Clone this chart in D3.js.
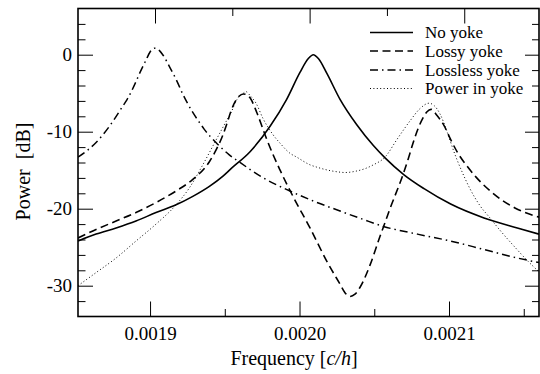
<!DOCTYPE html>
<html>
<head>
<meta charset="utf-8">
<script src="https://cdn.jsdelivr.net/npm/d3@7"></script>
<style>
  html, body { margin: 0; padding: 0; background: #fff; }
  svg { display: block; }
  text { font-family: "Liberation Serif", "Times New Roman", serif; fill: #000; }
</style>
</head>
<body>
<svg id="chart" width="540" height="374"></svg>
<script>
// ---------- data ----------
const seriesNames = ["No yoke", "Lossy yoke", "Lossless yoke", "Power in yoke"];

const noYokeFreq = [0.0018518, 0.0018639, 0.0018773, 0.0018906, 0.0019040, 0.0019174, 0.0019286, 0.0019397, 0.0019486, 0.0019542, 0.0019669, 0.0019803, 0.0019914, 0.0020003, 0.0020059, 0.0020092, 0.0020126, 0.0020182, 0.0020271, 0.0020383, 0.0020494, 0.0020572, 0.0020699, 0.0020833, 0.0021011, 0.0021234, 0.0021457, 0.0021602];
const noYokeDb = [-24.2, -23.3, -22.5, -21.6, -20.5, -19.5, -18.4, -17.1, -15.8, -14.8, -12.6, -9.3, -5.8, -2.3, -0.5, 0.0, -0.5, -2.4, -5.8, -9.1, -11.8, -13.4, -15.6, -17.4, -19.4, -21.2, -22.5, -23.3];

const lossyFreq = [0.0018518, 0.0018639, 0.0018773, 0.0018906, 0.0019040, 0.0019174, 0.0019286, 0.0019397, 0.0019441, 0.0019486, 0.0019515, 0.0019542, 0.0019569, 0.0019595, 0.0019624, 0.0019649, 0.0019669, 0.0019714, 0.0019758, 0.0019781, 0.0019870, 0.0019959, 0.0020070, 0.0020182, 0.0020271, 0.0020304, 0.0020338, 0.0020371, 0.0020405, 0.0020472, 0.0020538, 0.0020572, 0.0020605, 0.0020639, 0.0020692, 0.0020726, 0.0020759, 0.0020793, 0.0020826, 0.0020853, 0.0020880, 0.0020920, 0.0020967, 0.0021013, 0.0021060, 0.0021114, 0.0021181, 0.0021288, 0.0021441, 0.0021602];
const lossyDb = [-23.8, -22.7, -21.6, -20.5, -19.2, -17.7, -16.2, -13.9, -12.4, -10.5, -8.9, -7.3, -6.1, -5.4, -5.1, -5.2, -5.6, -7.5, -9.8, -11.0, -15.0, -18.5, -22.5, -26.8, -29.8, -30.9, -31.4, -31.1, -30.2, -27.3, -23.6, -21.8, -20.0, -18.3, -15.6, -13.6, -11.5, -9.6, -8.2, -7.4, -7.1, -7.9, -9.2, -11.1, -12.8, -14.3, -15.9, -17.9, -19.9, -21.1];

const losslessFreq = [0.0018518, 0.0018639, 0.0018728, 0.0018817, 0.0018844, 0.0018906, 0.0018933, 0.0018973, 0.0019000, 0.0019033, 0.0019060, 0.0019085, 0.0019134, 0.0019174, 0.0019221, 0.0019286, 0.0019334, 0.0019363, 0.0019441, 0.0019530, 0.0019602, 0.0019758, 0.0019936, 0.0020092, 0.0020271, 0.0020427, 0.0020561, 0.0020788, 0.0021011, 0.0021234, 0.0021457, 0.0021602];
const losslessDb = [-13.3, -11.4, -9.3, -6.7, -5.9, -3.5, -2.3, -0.7, 0.35, 0.85, 0.6, 0.0, -1.7, -3.2, -5.2, -7.5, -8.9, -9.7, -11.4, -13.0, -14.0, -16.0, -17.7, -19.0, -20.3, -21.4, -22.3, -23.3, -24.2, -25.3, -26.4, -27.0];

const powerFreq = [0.0018518, 0.0018639, 0.0018773, 0.0018906, 0.0019040, 0.0019174, 0.0019263, 0.0019353, 0.0019441, 0.0019508, 0.0019542, 0.0019582, 0.0019624, 0.0019642, 0.0019669, 0.0019709, 0.0019756, 0.0019823, 0.0019870, 0.0019936, 0.0019981, 0.0020070, 0.0020115, 0.0020249, 0.0020304, 0.0020383, 0.0020438, 0.0020494, 0.0020572, 0.0020652, 0.0020739, 0.0020806, 0.0020866, 0.0020900, 0.0020940, 0.0020987, 0.0021033, 0.0021087, 0.0021140, 0.0021207, 0.0021274, 0.0021341, 0.0021441, 0.0021522, 0.0021602];
const powerDb = [-30.0, -28.3, -26.4, -24.2, -22.0, -19.5, -17.3, -14.3, -11.1, -8.7, -7.5, -5.8, -5.0, -4.8, -5.3, -6.3, -8.3, -10.4, -11.5, -12.8, -13.3, -14.3, -14.6, -15.2, -15.3, -15.1, -14.8, -14.3, -13.3, -11.0, -8.6, -7.0, -6.3, -6.6, -7.7, -10.0, -12.6, -15.2, -17.4, -19.6, -21.2, -22.8, -25.0, -26.7, -28.2];

const xMajorTicks = [0.0019, 0.0020, 0.0021];
const xTickLabels = ["0.0019", "0.0020", "0.0021"];
const xMinorTicks = [0.00195, 0.00205, 0.00215];
const yMajorTicks = [-30, -20, -10, 0];
const yTickLabels = ["-30", "-20", "-10", "0"];
const yMinorTicks = [-32, -28, -26, -24, -22, -18, -16, -14, -12, -8, -6, -4, -2, 2, 4];
const topMajorTicks = [0, 2, 4];
const topMinorTicks = [1, 3];

// ---------- layout ----------
const svg = d3.select("#chart");
const L = 78, R = 539, T = 8.5, B = 316.5;

const x = d3.scaleLinear().domain([0.0018518, 0.0021602]).range([L, R]);
const y = d3.scaleLinear().domain([-34, 6]).range([B, T]);
const xTop = d3.scaleLinear().domain([-0.996, 4.967]).range([L, R]);

svg.append("defs").append("clipPath").attr("id", "clip")
  .append("rect").attr("x", L).attr("y", T).attr("width", R - L).attr("height", B - T);

function styleAxis(g) {
  g.select(".domain").remove();
  g.selectAll(".tick line").attr("stroke", "#000").attr("stroke-width", 1);
  g.selectAll(".tick text").attr("font-family", "Liberation Serif, Times New Roman, serif").attr("fill", "#000");
}

// bottom
svg.append("g").attr("transform", `translate(0,${B})`)
  .call(d3.axisBottom(x).tickValues(xMajorTicks).tickSize(-15).tickPadding(10)
    .tickFormat((d, i) => xTickLabels[i]))
  .call(styleAxis)
  .call(g => g.selectAll(".tick text").attr("font-size", 19));
svg.append("g").attr("transform", `translate(0,${B})`)
  .call(d3.axisBottom(x).tickValues(xMinorTicks).tickSize(-7.5).tickFormat(""))
  .call(styleAxis);

// top
svg.append("g").attr("transform", `translate(0,${T})`)
  .call(d3.axisTop(xTop).tickValues(topMajorTicks).tickSize(-15).tickFormat(""))
  .call(styleAxis);
svg.append("g").attr("transform", `translate(0,${T})`)
  .call(d3.axisTop(xTop).tickValues(topMinorTicks).tickSize(-7.5).tickFormat(""))
  .call(styleAxis);

// left
svg.append("g").attr("transform", `translate(${L},0)`)
  .call(d3.axisLeft(y).tickValues(yMajorTicks).tickSize(-15).tickPadding(6)
    .tickFormat((d, i) => yTickLabels[i]))
  .call(styleAxis)
  .call(g => g.selectAll(".tick text").attr("font-size", 19));
svg.append("g").attr("transform", `translate(${L},0)`)
  .call(d3.axisLeft(y).tickValues(yMinorTicks).tickSize(-7.5).tickFormat(""))
  .call(styleAxis);

// right
svg.append("g").attr("transform", `translate(${R},0)`)
  .call(d3.axisRight(y).tickValues(yMajorTicks).tickSize(-14).tickFormat(""))
  .call(styleAxis);
svg.append("g").attr("transform", `translate(${R},0)`)
  .call(d3.axisRight(y).tickValues(yMinorTicks).tickSize(-7).tickFormat(""))
  .call(styleAxis);

// frame
svg.append("rect").attr("x", L).attr("y", T).attr("width", R - L).attr("height", B - T)
  .attr("fill", "none").attr("stroke", "#000").attr("stroke-width", 1.6);

// ---------- curves ----------
const styles = [
  { dash: null, width: 1.6 },
  { dash: "8,4.5", width: 1.6 },
  { dash: "8,4,1.5,4", width: 1.5 },
  { dash: "1,2.4", width: 1.0 }
];
const series = [
  d3.zip(noYokeFreq, noYokeDb),
  d3.zip(lossyFreq, lossyDb),
  d3.zip(losslessFreq, losslessDb),
  d3.zip(powerFreq, powerDb)
];
const line = d3.line().x(d => x(d[0])).y(d => y(d[1])).curve(d3.curveMonotoneX);
const plot = svg.append("g").attr("clip-path", "url(#clip)");
series.forEach((s, i) => {
  plot.append("path").datum(s).attr("d", line)
    .attr("fill", "none").attr("stroke", "#000")
    .attr("stroke-width", styles[i].width)
    .attr("stroke-dasharray", styles[i].dash)
    .attr("stroke-linejoin", "round");
});

// ---------- legend ----------
const legRows = [32.5, 51, 70, 88.5];
const leg = svg.append("g");
seriesNames.forEach((name, i) => {
  leg.append("line").attr("x1", 370).attr("x2", 413).attr("y1", legRows[i]).attr("y2", legRows[i])
    .attr("stroke", "#000").attr("stroke-width", styles[i].width)
    .attr("stroke-dasharray", styles[i].dash);
  leg.append("text").attr("x", 425).attr("y", legRows[i] + 5.5)
    .attr("font-size", 17).text(name);
});

// ---------- axis titles ----------
const xt = svg.append("text").attr("x", 294).attr("y", 365).attr("text-anchor", "middle").attr("font-size", 20);
xt.append("tspan").text("Frequency [");
xt.append("tspan").attr("font-style", "italic").text("c/h");
xt.append("tspan").text("]");

svg.append("text").attr("transform", "translate(30,171.5) rotate(-90)")
  .attr("text-anchor", "middle").attr("font-size", 20)
  .style("white-space", "pre").text("Power  [dB]");
</script>
</body>
</html>
